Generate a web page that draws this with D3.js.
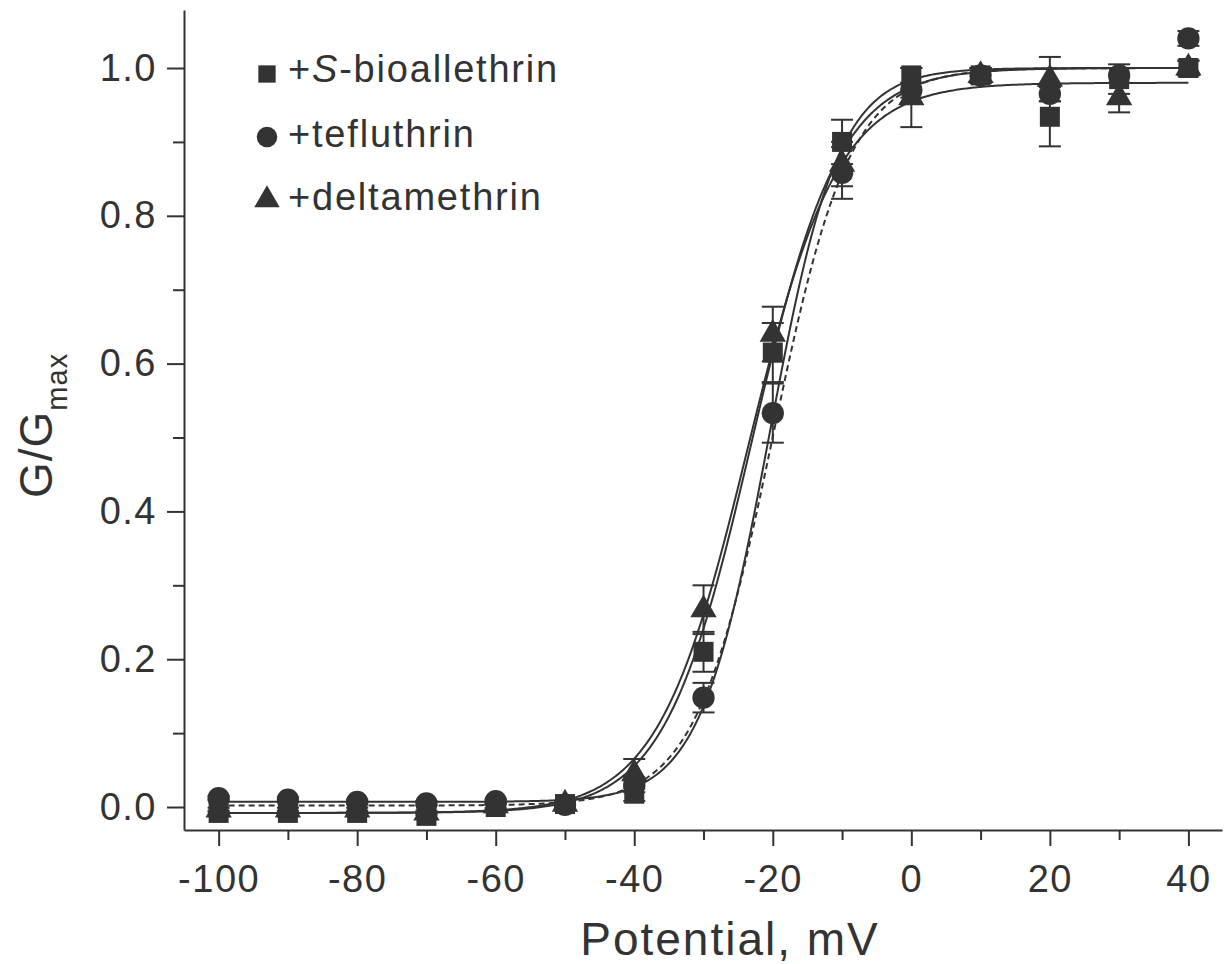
<!DOCTYPE html>
<html>
<head>
<meta charset="utf-8">
<script src="https://cdn.jsdelivr.net/npm/d3@7"></script>
<style>
  body { margin: 0; background: #fff; }
  svg { display: block; }
  text { font-family: "Liberation Sans", Arial, Helvetica, sans-serif; fill: #333; }
</style>
</head>
<body>
<svg id="chart" width="1227" height="964"></svg>
<script>
// data
const potentials = [-100, -90, -80, -70, -60, -50, -40, -30, -20, -10, 0, 10, 20, 30, 40];

const bioValues = [-0.008, -0.008, -0.008, -0.012, 0.0, 0.004, 0.018, 0.21, 0.615, 0.90, 0.99, 0.99, 0.934, 0.985, 1.0];
const bioErrors = [0.003, 0.003, 0.003, 0.003, 0.003, 0.004, 0.01, 0.027, 0.04, 0.03, 0.01, 0.01, 0.04, 0.02, 0.01];

const tefValues = [0.012, 0.01, 0.007, 0.005, 0.008, 0.003, 0.03, 0.148, 0.533, 0.858, 0.97, 0.99, 0.965, 0.99, 1.04];
const tefErrors = [0.003, 0.003, 0.003, 0.003, 0.003, 0.003, 0.01, 0.02, 0.04, 0.035, 0.01, 0.01, 0.01, 0.01, 0.01];

const delValues = [-0.004, -0.004, -0.004, -0.008, 0.002, 0.004, 0.045, 0.267, 0.64, 0.87, 0.96, 0.99, 0.985, 0.96, 1.0];
const delErrors = [0.003, 0.003, 0.003, 0.003, 0.003, 0.004, 0.02, 0.033, 0.037, 0.03, 0.04, 0.01, 0.03, 0.02, 0.01];

// Boltzmann fit parameters: [bottom, top, V1/2, slope]
const bioFit = [-0.008, 1.0, -23.0, 6.3];
const tefFit = [0.007, 1.0, -20.5, 5.0];
const delFit = [-0.008, 0.98, -23.6, 6.5];
const controlFit = [0.002, 1.0, -20.0, 5.6];

const xTicks = [-100, -80, -60, -40, -20, 0, 20, 40];
const xMinorTicks = [-90, -70, -50, -30, -10, 10, 30];
const yTicks = [0, 0.2, 0.4, 0.6, 0.8, 1.0];
const yMinorTicks = [0.1, 0.3, 0.5, 0.7, 0.9];

const legendLabels = ['+S-bioallethrin', '+tefluthrin', '+deltamethrin'];

const svg = d3.select('#chart');
const ink = '#333';

const xScale = d3.scaleLinear().domain([-105, 44.85]).range([184, 1222]);
const yScale = d3.scaleLinear().domain([-0.0311, 1.0785]).range([830, 10]);

const boltzmann = (p, v) => p[1] + (p[0] - p[1]) / (1 + Math.exp((v - p[2]) / p[3]));

// fitted curves
const curveV = d3.range(-100, 40.01, 0.25);
const line = d3.line().x(v => xScale(v));
const fits = [
  { p: controlFit, dash: '6,4' },
  { p: tefFit, dash: null },
  { p: bioFit, dash: null },
  { p: delFit, dash: null }
];
fits.forEach(f => {
  svg.append('path')
    .attr('d', line.y(v => yScale(boltzmann(f.p, v)))(curveV))
    .attr('fill', 'none')
    .attr('stroke', ink)
    .attr('stroke-width', 2)
    .attr('stroke-dasharray', f.dash);
});

const series = [
  { values: bioValues, errors: bioErrors, shape: d3.symbolSquare, size: 400 },
  { values: tefValues, errors: tefErrors, shape: d3.symbolCircle, size: 390 },
  { values: delValues, errors: delErrors, shape: d3.symbolTriangle, size: 300 }
];

// error bars
series.forEach(s => {
  const g = svg.append('g').attr('stroke', ink).attr('stroke-width', 2);
  potentials.forEach((v, i) => {
    const x = xScale(v);
    const y0 = yScale(s.values[i] - s.errors[i]);
    const y1 = yScale(s.values[i] + s.errors[i]);
    g.append('line').attr('x1', x).attr('x2', x).attr('y1', y0).attr('y2', y1);
    [y0, y1].forEach(y => {
      g.append('line').attr('x1', x - 11).attr('x2', x + 11).attr('y1', y).attr('y2', y);
    });
  });
});

// markers
series.forEach(s => {
  svg.append('g').selectAll('path')
    .data(potentials)
    .enter()
    .append('path')
    .attr('d', d3.symbol().type(s.shape).size(s.size))
    .attr('transform', (v, i) => 'translate(' + xScale(v) + ',' + yScale(s.values[i]) + ')')
    .attr('fill', ink);
});

// axes
svg.append('g')
  .attr('transform', 'translate(184,0)')
  .call(d3.axisLeft(yScale).tickValues(yTicks).tickFormat(d3.format('.1f'))
    .tickSize(17).tickSizeOuter(0).tickPadding(10));
svg.append('g')
  .attr('transform', 'translate(184,0)')
  .call(d3.axisLeft(yScale).tickValues(yMinorTicks).tickFormat('').tickSize(11).tickSizeOuter(0))
  .select('.domain').remove();

svg.append('g')
  .attr('transform', 'translate(0,830)')
  .call(d3.axisBottom(xScale).tickValues(xTicks).tickFormat(d => String(d))
    .tickSize(16).tickSizeOuter(0).tickPadding(19));
svg.append('g')
  .attr('transform', 'translate(0,830)')
  .call(d3.axisBottom(xScale).tickValues(xMinorTicks).tickFormat('').tickSize(10).tickSizeOuter(0))
  .select('.domain').remove();

svg.selectAll('.domain, .tick line').attr('stroke', ink).attr('stroke-width', 2);
svg.selectAll('.tick text')
  .attr('fill', ink)
  .style('font-family', '"Liberation Sans", Arial, sans-serif')
  .style('font-size', '38px')
  .style('letter-spacing', '1.5px');

// axis titles
svg.append('text')
  .attr('x', 730)
  .attr('y', 955)
  .attr('text-anchor', 'middle')
  .style('font-size', '46px')
  .style('letter-spacing', '2px')
  .text('Potential, mV');

const yTitle = svg.append('text')
  .attr('transform', 'translate(52,498) rotate(-90)')
  .style('font-size', '46px')
  .style('letter-spacing', '1px');
yTitle.append('tspan').text('G/G');
yTitle.append('tspan').attr('dy', 15).style('font-size', '29px').text('max');

// legend
const legendShapes = [d3.symbolSquare, d3.symbolCircle, d3.symbolTriangle];
const legendSizes = [300, 330, 280];
legendLabels.forEach((label, i) => {
  const cy = 74 + i * 63;
  svg.append('path')
    .attr('d', d3.symbol().type(legendShapes[i]).size(legendSizes[i]))
    .attr('transform', 'translate(267,' + cy + ')')
    .attr('fill', ink);
  const t = svg.append('text')
    .attr('x', 288)
    .attr('y', cy + 8 + (i > 0 ? 2 : 0))
    .style('font-size', '38px')
    .style('letter-spacing', '1.8px');
  if (i === 0) {
    t.append('tspan').text('+');
    t.append('tspan').style('font-style', 'italic').text('S');
    t.append('tspan').text('-bioallethrin');
  } else {
    t.text(label);
  }
});
</script>
</body>
</html>
